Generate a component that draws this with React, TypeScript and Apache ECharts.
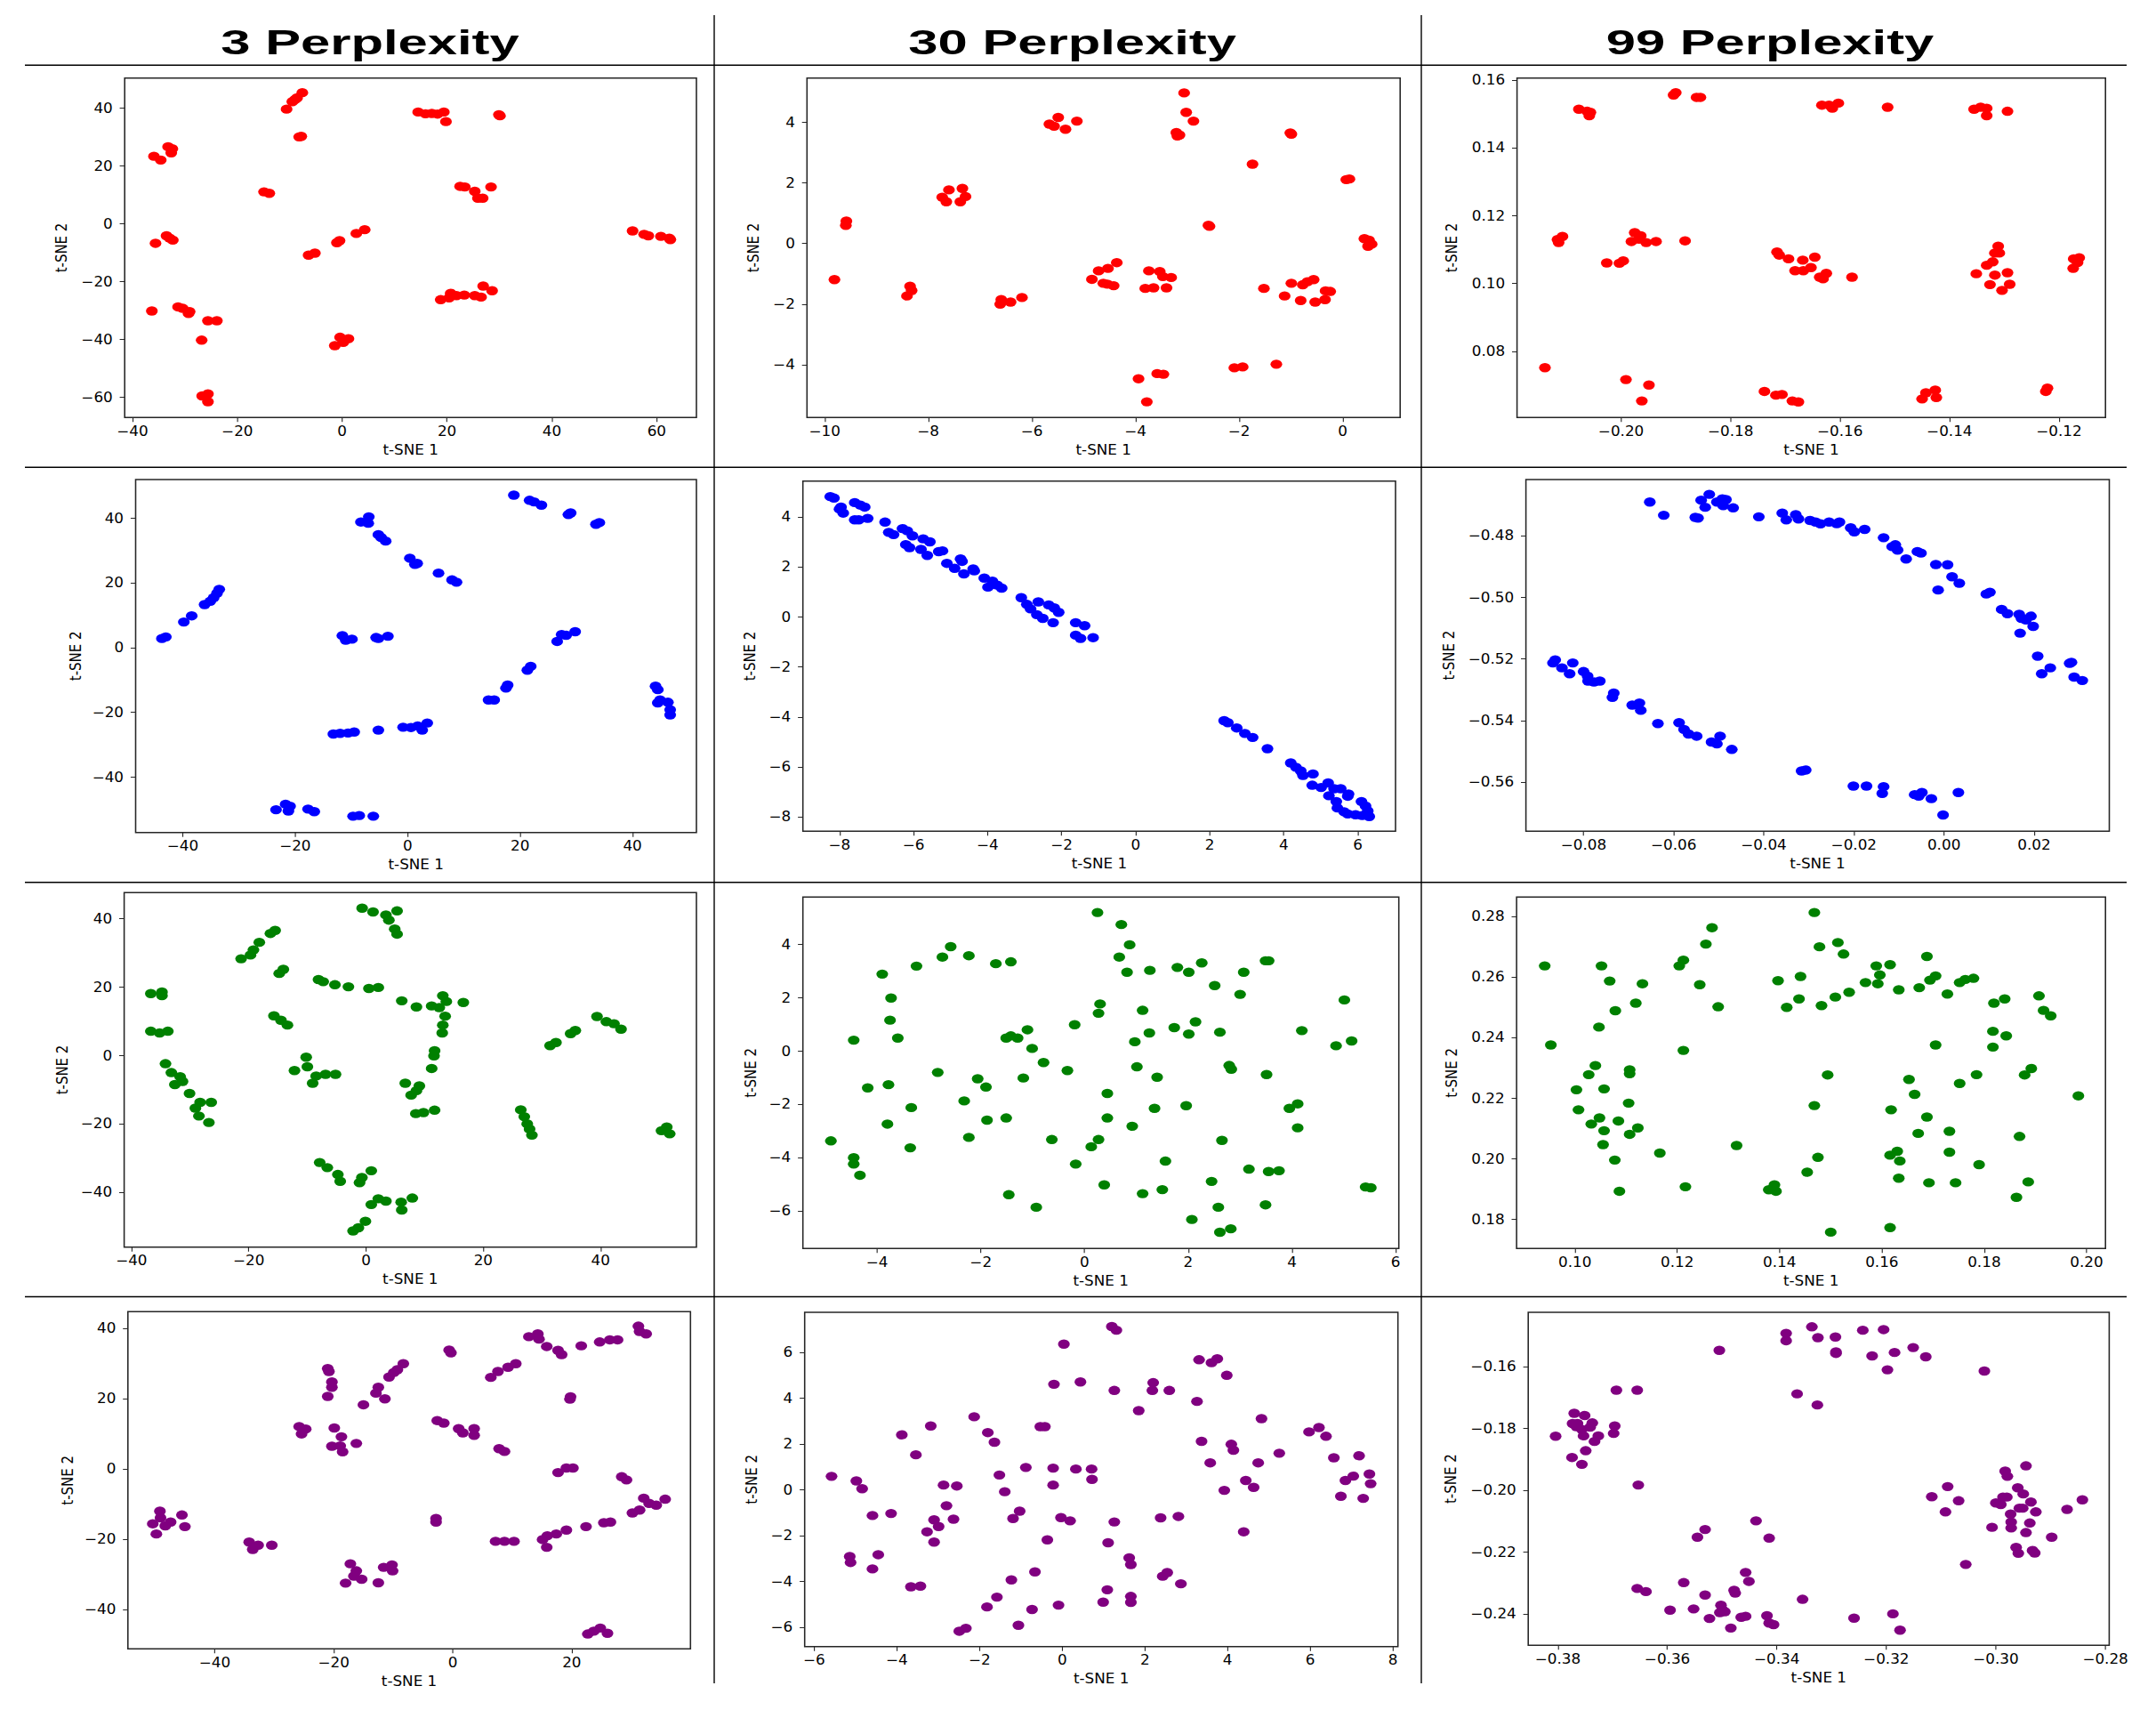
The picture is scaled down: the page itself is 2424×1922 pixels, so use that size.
import React, { useEffect, useRef } from "react";
import * as echarts from "echarts";

// ---------------- text ----------------
const perplexityTitles = ["3 Perplexity", "30 Perplexity", "99 Perplexity"];
const axisNameX = "t-SNE 1";
const axisNameY = "t-SNE 2";
const rowColors = ["#ff0000", "#0000ff", "#008000", "#800080"];

// ---------------- tick values ----------------
const ticksX = [
  [-40, -20, 0, 20, 40, 60],
  [-10, -8, -6, -4, -2, 0],
  [-0.2, -0.18, -0.16, -0.14, -0.12],
  [-40, -20, 0, 20, 40],
  [-8, -6, -4, -2, 0, 2, 4, 6],
  [-0.08, -0.06, -0.04, -0.02, 0, 0.02],
  [-40, -20, 0, 20, 40],
  [-4, -2, 0, 2, 4, 6],
  [0.1, 0.12, 0.14, 0.16, 0.18, 0.2],
  [-40, -20, 0, 20],
  [-6, -4, -2, 0, 2, 4, 6, 8],
  [-0.38, -0.36, -0.34, -0.32, -0.3, -0.28],
];
const ticksY = [
  [-60, -40, -20, 0, 20, 40],
  [-4, -2, 0, 2, 4],
  [0.08, 0.1, 0.12, 0.14, 0.16],
  [-40, -20, 0, 20, 40],
  [-8, -6, -4, -2, 0, 2, 4],
  [-0.56, -0.54, -0.52, -0.5, -0.48],
  [-40, -20, 0, 20, 40],
  [-6, -4, -2, 0, 2, 4],
  [0.18, 0.2, 0.22, 0.24, 0.26, 0.28],
  [-40, -20, 0, 20, 40],
  [-6, -4, -2, 0, 2, 4, 6],
  [-0.24, -0.22, -0.2, -0.18, -0.16],
];
const rangeX = [
  [-41.48, 67.58], [-10.34, 1.11], [-0.219, -0.1115],
  [-48.37, 51.37], [-8.99, 7.02], [-0.0928, 0.0367],
  [-41.25, 56.36], [-5.43, 6.06], [0.0886, 0.2037],
  [-54.58, 39.95], [-6.23, 8.12], [-0.3854, -0.2793],
];
const rangeY = [
  [-66.97, 50.46], [-5.74, 5.46], [0.0605, 0.1606],
  [-57.14, 51.91], [-8.57, 5.43], [-0.576, -0.4617],
  [-56.05, 47.64], [-7.41, 5.78], [0.1704, 0.2864],
  [-51.24, 44.82], [-6.84, 7.75], [-0.2502, -0.1424],
];
const decimals = [0, 0, 2, 0, 0, 2, 0, 0, 2, 0, 0, 2];

// ---------------- data ----------------
const redP3 = [
  [-10.6, 39.7], [-9.5, 42.3], [-9.0, 43.0], [-8.6, 43.6], [-7.6, 45.4],
  [-7.8, 30.3], [-8.2, 30.1],
  [14.5, 38.7], [15.9, 38.1], [17.1, 38.2], [18.2, 38.0], [19.4, 38.7], [19.8, 35.4],
  [29.9, 37.8], [30.1, 37.4],
  [-35.9, 23.4], [-34.6, 22.1], [-33.2, 26.7], [-32.6, 24.6], [-32.4, 26.0],
  [-14.9, 11.1], [-13.9, 10.6],
  [22.5, 13.0], [23.4, 12.8], [25.3, 11.3], [25.9, 8.9], [26.8, 8.9], [28.4, 12.8],
  [-35.6, -6.7], [-33.5, -4.1], [-32.3, -5.6], [-32.9, -4.9],
  [-6.4, -10.8], [-5.2, -10.1],
  [-1.0, -6.5], [-0.5, -5.8],
  [2.7, -3.3], [4.3, -2.0],
  [55.4, -2.4], [57.6, -3.6], [58.4, -4.1], [60.8, -4.3], [62.4, -4.9], [62.6, -5.4],
  [-36.3, -30.1],
  [-31.3, -28.7], [-30.4, -29.2], [-29.3, -31.0], [-29.1, -30.3],
  [-25.6, -33.5], [-23.9, -33.5],
  [-26.8, -40.2],
  [-26.7, -59.5], [-25.6, -58.8], [-25.6, -61.5],
  [-1.4, -42.1], [-0.4, -39.2], [0.2, -41.0], [1.2, -39.7],
  [18.8, -26.2], [20.4, -25.6], [21.8, -24.8], [23.3, -24.6], [25.3, -24.8], [26.5, -25.3],
  [26.9, -21.5], [28.6, -23.1], [20.7, -24.0],
];

const redP30 = [
  [-3.06, 4.97], [-3.02, 4.33], [-2.88, 4.04], [-3.21, 3.66], [-3.15, 3.58], [-3.19, 3.55],
  [-5.66, 3.94], [-5.49, 4.16], [-5.35, 3.77], [-5.13, 4.04], [-5.57, 3.87],
  [-1.01, 3.65], [-0.99, 3.61],
  [-1.74, 2.62],
  [0.07, 2.11], [0.13, 2.13],
  [-7.73, 1.53], [-7.65, 1.38], [-7.6, 1.77], [-7.38, 1.38], [-7.34, 1.82], [-7.28, 1.55],
  [-9.58, 0.74], [-9.59, 0.6],
  [-2.59, 0.6], [-2.57, 0.57],
  [0.42, 0.16], [0.51, 0.11], [0.56, -0.02], [0.49, -0.09],
  [-9.81, -1.19],
  [-8.41, -1.73], [-8.35, -1.41], [-8.32, -1.55],
  [-6.61, -2.0], [-6.59, -1.85], [-6.41, -1.93], [-6.19, -1.78],
  [-4.84, -1.18], [-4.71, -0.9], [-4.53, -0.82], [-4.36, -0.63], [-4.62, -1.31], [-4.42, -1.39], [-4.54, -1.34],
  [-3.74, -0.9], [-3.81, -1.48], [-3.65, -1.46], [-3.53, -0.92], [-3.47, -1.09], [-3.4, -1.46], [-3.31, -1.12],
  [-1.52, -1.48], [-1.12, -1.73],
  [-0.99, -1.31], [-0.77, -1.36], [-0.68, -1.26], [-0.56, -1.19],
  [-0.81, -1.88], [-0.53, -1.93], [-0.34, -1.85], [-0.33, -1.56], [-0.24, -1.58],
  [-3.94, -4.46], [-3.58, -4.29], [-3.46, -4.31], [-3.78, -5.22],
  [-2.09, -4.1], [-1.93, -4.07], [-1.28, -3.98],
];

const redP99 = [
  [-0.2077, 0.1514], [-0.2062, 0.1508], [-0.2058, 0.1495], [-0.2056, 0.1505],
  [-0.1904, 0.1556], [-0.19, 0.1563],
  [-0.1862, 0.1549], [-0.1855, 0.1549],
  [-0.1633, 0.1526], [-0.162, 0.1526], [-0.1614, 0.1517], [-0.1603, 0.1532],
  [-0.1513, 0.152],
  [-0.1355, 0.1514], [-0.1343, 0.152], [-0.1332, 0.1517], [-0.1332, 0.1495], [-0.1294, 0.1508],
  [-0.2116, 0.113], [-0.2114, 0.1121], [-0.2107, 0.1139],
  [-0.2026, 0.1061], [-0.2003, 0.106], [-0.1996, 0.1067],
  [-0.1981, 0.1124], [-0.1975, 0.115], [-0.1967, 0.1131], [-0.1954, 0.1121], [-0.1936, 0.1124], [-0.1964, 0.1141],
  [-0.1883, 0.1126],
  [-0.1715, 0.1093], [-0.1711, 0.1084], [-0.1694, 0.1073], [-0.1682, 0.1038], [-0.1668, 0.1069],
  [-0.1667, 0.1038], [-0.1653, 0.1047], [-0.1646, 0.1078], [-0.1637, 0.1019], [-0.1631, 0.1014], [-0.1625, 0.103],
  [-0.1578, 0.1019],
  [-0.1351, 0.1029], [-0.1332, 0.1054], [-0.1321, 0.1064], [-0.1317, 0.109], [-0.1311, 0.111], [-0.1309, 0.109],
  [-0.1317, 0.1025], [-0.1326, 0.0997], [-0.1304, 0.098], [-0.1294, 0.1032], [-0.129, 0.0998],
  [-0.1173, 0.1073], [-0.1166, 0.1062], [-0.1174, 0.1045], [-0.1163, 0.1076],
  [-0.2139, 0.0752],
  [-0.1991, 0.0717], [-0.1949, 0.0701], [-0.1962, 0.0654],
  [-0.1738, 0.0682], [-0.1717, 0.0671], [-0.1706, 0.0673], [-0.1687, 0.0654], [-0.1676, 0.0651],
  [-0.145, 0.066], [-0.1443, 0.0678], [-0.1426, 0.0686], [-0.1424, 0.0664],
  [-0.1224, 0.0682], [-0.1221, 0.0692],
];

const blueP3 = [
  [18.9, 47.1], [21.7, 45.5], [22.5, 45.0], [23.8, 44.0],
  [28.6, 41.1], [29.0, 41.6], [33.5, 38.1], [34.1, 38.6],
  [-8.3, 38.8], [-6.9, 40.4], [-7.0, 38.4],
  [-5.2, 34.9], [-4.7, 34.0], [-3.9, 32.9],
  [0.4, 27.6], [1.3, 25.7], [1.7, 26.0],
  [5.5, 23.0], [7.9, 20.9], [8.7, 20.2],
  [-43.7, 2.8], [-43.0, 3.3], [-39.8, 7.9], [-38.4, 9.8], [-36.1, 13.3], [-35.1, 14.3], [-34.5, 15.4], [-33.9, 16.8], [-33.5, 18.0],
  [-11.6, 3.7], [-11.0, 2.3], [-9.9, 2.6],
  [-5.6, 3.1], [-5.2, 2.8], [-3.5, 3.5],
  [26.6, 1.9], [27.4, 4.0], [28.2, 3.8], [29.8, 4.9],
  [21.3, -7.0], [21.9, -5.8],
  [17.5, -12.5], [17.8, -11.6],
  [14.4, -16.2], [15.4, -16.2],
  [44.1, -11.9], [44.5, -13.0], [44.5, -17.1], [46.3, -16.9], [46.7, -19.2], [46.7, -20.8], [44.9, -16.2],
  [-13.2, -26.7], [-12.0, -26.5], [-10.6, -26.4], [-9.5, -26.1], [-5.2, -25.5], [-0.8, -24.6], [0.6, -24.7],
  [1.8, -24.2], [3.5, -23.3], [2.6, -25.5],
  [-23.4, -50.1], [-21.7, -48.4], [-21.2, -50.5], [-20.9, -49.0],
  [-17.7, -49.9], [-16.6, -50.7],
  [-9.7, -52.1], [-8.6, -51.9], [-6.1, -52.1],
];

const blueP30 = [
  [-8.25, 4.81], [-8.15, 4.75], [-7.96, 4.39], [-7.9, 4.15], [-8.0, 4.31],
  [-7.59, 4.57], [-7.44, 4.47], [-7.32, 4.39], [-7.59, 3.88], [-7.48, 3.88], [-7.24, 3.94],
  [-6.77, 3.79], [-6.67, 3.38], [-6.54, 3.29],
  [-6.3, 3.53], [-6.17, 3.44], [-6.03, 3.24], [-6.21, 2.89], [-6.11, 2.77],
  [-5.74, 3.12], [-5.56, 3.0], [-5.8, 2.7], [-5.63, 2.46], [-5.32, 2.61], [-5.22, 2.64],
  [-5.1, 2.14], [-4.89, 1.94], [-4.73, 2.32], [-4.69, 2.22], [-4.64, 1.72], [-4.39, 1.92], [-4.36, 1.84],
  [-4.09, 1.55], [-3.99, 1.19], [-3.87, 1.43], [-3.74, 1.27], [-3.62, 1.15],
  [-3.09, 0.77], [-2.94, 0.5], [-2.84, 0.32], [-2.63, 0.6], [-2.67, 0.09], [-2.51, -0.06],
  [-2.35, 0.48], [-2.2, 0.36], [-2.08, 0.18], [-2.23, -0.23],
  [-1.62, -0.23], [-1.38, -0.35], [-1.49, -0.86], [-1.62, -0.73], [-1.15, -0.83],
  [2.39, -4.15], [2.49, -4.23], [2.73, -4.44], [2.95, -4.66], [3.16, -4.82], [3.56, -5.27],
  [4.19, -5.84], [4.33, -6.01], [4.46, -6.16], [4.52, -6.34], [4.79, -6.28], [4.77, -6.73],
  [5.01, -6.82], [5.2, -6.64], [5.36, -6.87], [5.22, -7.15], [5.42, -7.38],
  [5.54, -6.87], [5.75, -7.08], [5.73, -7.17],
  [5.45, -7.64], [5.63, -7.79], [5.73, -7.88], [5.94, -7.91],
  [6.1, -7.38], [6.21, -7.56], [6.27, -7.76], [6.31, -7.98], [6.12, -7.94],
];

const blueP99 = [
  [-0.0653, -0.469], [-0.0622, -0.4733], [-0.0552, -0.474], [-0.0546, -0.4742],
  [-0.0539, -0.4684], [-0.053, -0.4707], [-0.0521, -0.4665], [-0.0504, -0.469], [-0.0492, -0.468],
  [-0.0484, -0.4682], [-0.049, -0.4702], [-0.0468, -0.4709],
  [-0.0411, -0.4738],
  [-0.0359, -0.4726], [-0.035, -0.4748], [-0.0329, -0.4731], [-0.0323, -0.4745],
  [-0.0297, -0.475], [-0.0285, -0.4755], [-0.0274, -0.4761], [-0.0255, -0.4755], [-0.0238, -0.476], [-0.0232, -0.4755],
  [-0.0207, -0.4774], [-0.0199, -0.4787], [-0.0176, -0.4779],
  [-0.0134, -0.4806],
  [-0.0115, -0.4835], [-0.0108, -0.4829], [-0.0103, -0.4846],
  [-0.0084, -0.4875], [-0.0059, -0.4851], [-0.0051, -0.4856],
  [-0.0018, -0.4893], [0.0008, -0.4894], [0.0018, -0.4933], [0.0034, -0.4954], [-0.0013, -0.4976],
  [0.0094, -0.4989], [0.0102, -0.4983],
  [0.0128, -0.5039], [0.0141, -0.5053],
  [0.0167, -0.5055], [0.0172, -0.5068], [0.0182, -0.5073], [0.0193, -0.5061], [0.0198, -0.5094], [0.0169, -0.5116],
  [0.0208, -0.5191], [0.0217, -0.5248], [0.0236, -0.5229],
  [0.0279, -0.5214], [0.0283, -0.5211], [0.0289, -0.5259], [0.0307, -0.527],
  [-0.0868, -0.5213], [-0.0863, -0.5203], [-0.0848, -0.5229], [-0.0824, -0.5213], [-0.0831, -0.5248],
  [-0.08, -0.5241], [-0.0791, -0.5256], [-0.079, -0.5272], [-0.0777, -0.5275], [-0.0764, -0.5272],
  [-0.0733, -0.5311], [-0.0736, -0.5325],
  [-0.0692, -0.535], [-0.0676, -0.5343], [-0.0673, -0.5367],
  [-0.0635, -0.541],
  [-0.0588, -0.5407], [-0.0577, -0.5429], [-0.0567, -0.5444], [-0.0549, -0.5451],
  [-0.0516, -0.547], [-0.0504, -0.5476], [-0.0497, -0.5451],
  [-0.0471, -0.5494],
  [-0.0316, -0.5564], [-0.0307, -0.5561],
  [-0.0201, -0.5613], [-0.0172, -0.5613],
  [-0.0134, -0.5615], [-0.0137, -0.5637],
  [-0.0065, -0.5641], [-0.0056, -0.5646], [-0.0049, -0.5634], [-0.0028, -0.5654],
  [0.0032, -0.5634], [-0.0002, -0.5707],
];

const greenP3 = [
  [-0.66, 43.1], [1.2, 42.0], [3.4, 41.1], [3.9, 39.6], [5.3, 42.3], [4.9, 37.0], [5.3, 35.5],
  [-21.3, 28.3], [-19.7, 29.4], [-19.2, 30.9], [-18.2, 33.1], [-16.3, 35.7], [-15.5, 36.6],
  [-14.8, 24.0], [-14.1, 25.2],
  [-36.7, 18.1], [-34.8, 18.6], [-34.8, 17.5],
  [-8.1, 22.2], [-7.3, 21.6], [-5.3, 20.7], [-3.0, 20.1],
  [0.5, 19.6], [2.1, 19.9],
  [6.1, 16.0], [8.6, 14.2], [11.2, 14.5], [12.5, 14.0],
  [13.1, 17.5], [13.7, 15.8], [16.6, 15.5],
  [13.5, 11.5], [13.1, 8.9], [13.0, 6.6],
  [11.7, 1.4], [11.6, -0.1], [11.2, -3.8],
  [-15.7, 11.6], [-14.5, 10.3], [-13.4, 8.9],
  [-36.7, 7.1], [-35.2, 6.6], [-33.8, 7.1],
  [-34.2, -2.4], [-33.2, -5.0], [-32.6, -8.5], [-31.7, -6.2], [-31.3, -7.6],
  [-30.1, -11.1], [-29.1, -15.4], [-28.3, -13.7], [-28.5, -17.7], [-26.4, -13.7], [-26.8, -19.6],
  [-12.2, -4.4], [-10.2, -0.5], [-10.0, -3.3], [-9.1, -8.1], [-8.5, -6.0], [-6.9, -5.5], [-5.2, -5.5],
  [6.7, -8.1], [7.7, -11.6], [8.6, -10.3], [9.1, -8.9],
  [8.5, -17.0], [9.8, -16.7], [11.7, -16.0],
  [39.4, 11.4], [41.0, 9.9], [42.3, 9.3], [43.5, 7.7],
  [31.4, 2.9], [32.4, 3.8], [34.9, 6.4], [35.7, 7.3],
  [26.4, -15.9], [27.0, -17.9], [27.5, -20.0], [27.9, -21.5], [28.3, -23.3],
  [50.4, -22.0], [51.3, -20.9], [51.8, -22.9],
  [-7.9, -31.3], [-6.6, -32.8], [-4.8, -34.8], [-4.4, -36.8],
  [-1.1, -37.2], [-0.7, -35.7], [0.9, -33.7],
  [0.9, -43.6], [2.1, -41.9], [3.4, -42.6],
  [6.0, -42.9], [6.1, -45.2], [7.9, -41.7],
  [-2.2, -51.3], [-1.3, -50.4], [-0.1, -48.5],
];

const greenP30 = [
  [0.25, 5.2], [0.71, 4.75], [0.87, 3.99], [0.67, 3.53], [0.82, 2.96], [1.26, 3.03], [1.79, 3.14],
  [2.01, 2.96], [2.26, 3.31], [2.51, 2.46], [3.0, 2.13], [3.07, 2.96], [3.49, 3.39], [3.55, 3.39],
  [5.01, 1.92], [4.19, 0.77], [4.85, 0.2], [5.15, 0.38], [5.42, -5.1], [5.52, -5.13],
  [-2.58, 3.92], [-2.74, 3.53], [-2.23, 3.58], [-3.24, 3.19], [-3.9, 2.89], [-1.71, 3.28], [-1.42, 3.35],
  [-3.73, 1.99], [-3.75, 1.16], [-3.6, 0.49], [-4.45, 0.41],
  [-1.51, 0.49], [-1.42, 0.57], [-1.29, 0.49], [-1.1, 0.8], [-1.01, 0.1],
  [-0.19, 0.99], [0.3, 1.77], [0.27, 1.42], [1.12, 1.53], [0.97, 0.35], [1.25, 0.68],
  [1.73, 0.88], [2.01, 0.64], [2.14, 1.1], [2.61, 0.71],
  [-0.79, -0.43], [-0.33, -0.73], [-1.18, -1.01], [1.01, -0.59], [1.4, -0.98],
  [2.79, -0.54], [2.83, -0.68], [3.51, -0.88],
  [-2.83, -0.8], [-2.06, -1.04], [-1.9, -1.35], [-3.78, -1.26], [-4.18, -1.38],
  [-3.34, -2.12], [-2.32, -1.87], [0.44, -1.59], [1.35, -2.15], [1.96, -2.05],
  [3.95, -2.15], [4.11, -1.98], [4.11, -2.88],
  [-3.8, -2.74], [-1.88, -2.59], [-1.51, -2.51], [-2.23, -3.24], [-4.89, -3.37], [-3.36, -3.63],
  [-0.63, -3.32], [0.44, -2.51], [0.92, -2.82], [0.27, -3.32], [0.13, -3.59], [-0.17, -4.24],
  [2.65, -3.35], [1.56, -4.13], [3.17, -4.43], [3.55, -4.52], [3.75, -4.49],
  [-4.45, -4.0], [-4.45, -4.24], [-4.33, -4.66],
  [0.38, -5.02], [1.12, -5.35], [1.5, -5.2], [2.45, -4.89],
  [-1.46, -5.39], [-0.93, -5.86], [2.58, -5.86], [3.49, -5.77], [2.07, -6.32],
  [2.61, -6.8], [2.82, -6.67],
];

const greenP99 = [
  [0.0941, 0.2637], [0.0953, 0.2376], [0.1052, 0.2637], [0.1068, 0.2587], [0.1132, 0.2578],
  [0.1119, 0.2514], [0.1079, 0.2489], [0.1047, 0.2435],
  [0.1204, 0.2637], [0.1212, 0.2656], [0.1256, 0.2709], [0.1268, 0.2763], [0.1244, 0.2575], [0.128, 0.2502],
  [0.1212, 0.2358],
  [0.104, 0.2308], [0.1027, 0.2278], [0.1107, 0.2294], [0.1107, 0.2281],
  [0.1003, 0.2228], [0.1057, 0.2231], [0.1007, 0.2162], [0.1105, 0.2184],
  [0.1048, 0.2135], [0.1032, 0.2115], [0.1057, 0.2093], [0.1085, 0.2125], [0.1123, 0.2102], [0.1107, 0.2081],
  [0.1055, 0.2047], [0.1078, 0.1996], [0.1087, 0.1893],
  [0.1166, 0.2019], [0.1216, 0.1908], [0.1316, 0.2044],
  [0.1379, 0.1898], [0.139, 0.1914], [0.1393, 0.1893],
  [0.1454, 0.1956], [0.1475, 0.2005], [0.1468, 0.2176], [0.1494, 0.2277], [0.15, 0.1758],
  [0.1468, 0.2813], [0.1478, 0.27], [0.1514, 0.2714], [0.1525, 0.2676],
  [0.1397, 0.2588], [0.1441, 0.2602], [0.1438, 0.2528], [0.1414, 0.25], [0.1482, 0.2506],
  [0.1509, 0.2534], [0.1536, 0.255], [0.1568, 0.2582],
  [0.1589, 0.2637], [0.1596, 0.2607], [0.1592, 0.2578], [0.1616, 0.2641], [0.1633, 0.2558],
  [0.1673, 0.2565], [0.1688, 0.2668], [0.1694, 0.259], [0.1705, 0.2604], [0.1728, 0.2544],
  [0.1752, 0.2582], [0.1763, 0.2592], [0.1779, 0.2596],
  [0.1819, 0.2514], [0.184, 0.2528], [0.1907, 0.2538], [0.1916, 0.249], [0.193, 0.2472],
  [0.1817, 0.2421], [0.1843, 0.2406], [0.1817, 0.2369], [0.1705, 0.2376],
  [0.1785, 0.2278], [0.1752, 0.2249], [0.1653, 0.2262], [0.1664, 0.2213], [0.1618, 0.2162],
  [0.1688, 0.2138], [0.1671, 0.2084], [0.1732, 0.2091],
  [0.1892, 0.2298], [0.1879, 0.2277], [0.1984, 0.2208], [0.1869, 0.2074],
  [0.1732, 0.2022], [0.1616, 0.2012], [0.163, 0.2025], [0.1635, 0.1993], [0.1633, 0.1936],
  [0.1692, 0.1921], [0.1744, 0.1921], [0.179, 0.1981], [0.1886, 0.1924], [0.1863, 0.1873],
  [0.1616, 0.1773],
];

const purpleP3 = [
  [31.2, 40.7], [31.4, 39.2], [32.5, 38.5],
  [24.7, 36.2], [26.4, 36.8], [27.7, 36.8], [21.6, 35.1],
  [12.8, 37.7], [14.3, 38.5], [14.5, 37.0], [15.8, 34.9], [17.7, 33.8], [18.3, 32.6],
  [-0.6, 33.9], [-0.3, 33.1],
  [6.4, 26.1], [7.6, 27.8], [9.3, 29.0], [10.6, 30.0],
  [19.8, 20.6], [19.7, 19.9],
  [-21.0, 28.6], [-20.8, 27.8], [-20.3, 24.8], [-20.3, 23.3], [-21.0, 20.7],
  [-10.7, 26.2], [-9.9, 27.5], [-9.3, 28.3], [-8.3, 30.0],
  [-12.5, 23.3], [-12.9, 21.6], [-11.4, 20.0], [-15.0, 18.3],
  [-25.8, 12.1], [-25.4, 10.0], [-24.7, 11.4], [-19.9, 11.7],
  [-20.3, 6.5], [-18.9, 6.6], [-18.7, 9.2], [-18.5, 4.9], [-16.2, 7.3],
  [-2.6, 13.8], [-1.5, 13.1], [1.0, 11.5], [1.7, 10.3], [3.6, 11.5], [3.6, 9.6],
  [7.8, 5.8], [8.7, 5.0],
  [17.7, -1.0], [19.1, 0.3], [20.2, 0.3],
  [28.4, -2.2], [29.2, -3.1],
  [32.1, -8.3], [33.0, -9.8], [34.2, -10.3], [35.7, -8.6], [30.2, -12.5], [31.4, -11.7],
  [22.4, -16.4], [25.4, -15.3], [26.5, -15.1],
  [19.1, -17.4], [17.4, -18.5], [15.1, -20.1], [15.9, -19.0], [15.8, -22.3],
  [7.2, -20.6], [8.7, -20.6], [10.3, -20.6],
  [-2.8, -14.1], [-2.8, -15.1],
  [-50.4, -15.6], [-49.8, -18.5], [-49.2, -12.0], [-49.1, -13.9], [-48.3, -16.2], [-47.4, -15.1], [-45.5, -13.1], [-45.0, -16.4],
  [-34.2, -20.8], [-33.6, -22.9], [-32.7, -21.7], [-30.4, -21.7],
  [-17.2, -27.0], [-16.2, -29.0], [-16.6, -30.5], [-15.3, -31.4], [-18.0, -32.5], [-12.5, -32.4],
  [-11.6, -28.0], [-10.2, -27.3], [-10.1, -29.0],
  [22.7, -47.0], [23.7, -46.2], [24.8, -45.3], [26.0, -46.8],
];

const purpleP30 = [
  [1.2, 7.13], [1.31, 6.97], [0.04, 6.36], [-0.2, 4.61], [0.44, 4.71], [1.26, 4.34],
  [2.2, 4.68], [2.18, 4.34], [2.59, 4.34], [3.31, 5.68], [3.61, 5.55], [3.75, 5.72], [3.98, 5.0],
  [3.26, 3.86], [1.85, 3.46], [4.82, 3.11], [3.37, 2.12], [4.09, 1.99], [4.14, 1.73], [5.25, 1.6],
  [3.58, 1.18], [4.74, 1.18], [5.97, 2.53], [6.21, 2.72], [6.38, 2.34], [6.57, 1.4], [7.18, 1.49],
  [7.43, 0.69], [7.46, 0.27], [7.04, 0.6], [6.85, 0.41], [6.74, -0.28], [7.28, -0.37],
  [4.44, 0.41], [4.63, 0.11], [3.92, -0.02], [4.39, -1.83], [2.38, -1.22], [2.81, -1.16],
  [1.26, -1.4], [1.11, -2.31], [0.72, 0.46], [0.71, 0.91], [0.33, 0.91], [-0.22, 0.95], [-0.22, 0.21],
  [-0.88, 0.98], [-0.03, -1.21], [0.19, -1.35], [-0.36, -2.18], [-0.53, 2.76], [-0.42, 2.76],
  [-2.13, 3.19], [-1.8, 2.5], [-1.64, 2.08], [-1.52, 0.65], [-1.39, -0.08], [-1.03, -0.93], [-1.19, -1.25],
  [-3.18, 2.79], [-3.88, 2.4], [-3.54, 1.53], [-2.87, 0.21], [-2.55, 0.17], [-2.8, -0.69], [-2.63, -1.28],
  [-3.1, -1.31], [-2.99, -1.6], [-3.27, -1.83], [-3.1, -2.28],
  [-5.58, 0.59], [-4.98, 0.39], [-4.84, 0.05], [-4.59, -1.12], [-4.14, -1.03],
  [-5.14, -2.91], [-5.12, -3.17], [-4.45, -2.83], [-4.59, -3.45], [-3.66, -4.23], [-3.43, -4.2],
  [-1.23, -3.93], [-0.66, -3.58], [-1.58, -4.68], [-1.82, -5.11], [-0.73, -5.22], [-0.09, -5.03],
  [-1.06, -5.91], [-2.49, -6.17], [-2.33, -6.04],
  [1.09, -4.36], [0.99, -4.9], [1.62, -2.97], [1.66, -3.26], [1.66, -4.65], [1.66, -4.91],
  [2.43, -3.77], [2.54, -3.61], [2.87, -4.1],
];

const purpleP99 = [
  [-0.3804, -0.1825], [-0.3774, -0.1894], [-0.3756, -0.1916],
  [-0.377, -0.1751], [-0.3751, -0.1758], [-0.3764, -0.1784], [-0.3773, -0.1784], [-0.3766, -0.1794],
  [-0.3756, -0.1803], [-0.3753, -0.1824], [-0.3741, -0.1796], [-0.3737, -0.1782], [-0.3749, -0.1872],
  [-0.3733, -0.1842], [-0.3726, -0.1824],
  [-0.3696, -0.1792], [-0.3698, -0.1816],
  [-0.3693, -0.1676], [-0.3655, -0.1676], [-0.3653, -0.1983],
  [-0.3505, -0.1547], [-0.3383, -0.1492], [-0.3383, -0.1516], [-0.3336, -0.1471], [-0.3325, -0.1506],
  [-0.3293, -0.1504], [-0.3292, -0.1552], [-0.3292, -0.1557], [-0.3243, -0.1482], [-0.3205, -0.148],
  [-0.3226, -0.1565], [-0.3198, -0.161], [-0.3185, -0.1554], [-0.3151, -0.1538], [-0.3128, -0.1568],
  [-0.3021, -0.1614], [-0.3363, -0.1688], [-0.3326, -0.1724],
  [-0.3117, -0.2021], [-0.3088, -0.1988], [-0.3068, -0.2034], [-0.3092, -0.207], [-0.3055, -0.224],
  [-0.3007, -0.212], [-0.3, -0.2041], [-0.2991, -0.2046], [-0.2987, -0.2022], [-0.298, -0.2022],
  [-0.2983, -0.1938], [-0.2979, -0.1955], [-0.2945, -0.1921], [-0.296, -0.1992], [-0.295, -0.2012],
  [-0.2973, -0.2077], [-0.2972, -0.2103], [-0.2972, -0.2122], [-0.2957, -0.2058], [-0.2951, -0.2058],
  [-0.2936, -0.2038], [-0.2927, -0.207], [-0.2938, -0.2106], [-0.2945, -0.2137],
  [-0.2963, -0.2185], [-0.2959, -0.2204], [-0.2933, -0.2195], [-0.2929, -0.2203],
  [-0.2898, -0.2152], [-0.287, -0.2062], [-0.2842, -0.2031],
  [-0.3545, -0.2152], [-0.3531, -0.2127], [-0.3438, -0.2099], [-0.3414, -0.2155],
  [-0.3655, -0.2318], [-0.3639, -0.2328], [-0.357, -0.2299], [-0.3595, -0.2388], [-0.3552, -0.2384],
  [-0.3531, -0.2339], [-0.3523, -0.2415], [-0.3502, -0.2372], [-0.3499, -0.2388], [-0.3495, -0.2393],
  [-0.3504, -0.2396], [-0.3478, -0.2324], [-0.3476, -0.2333], [-0.3484, -0.2446],
  [-0.3465, -0.2411], [-0.3457, -0.2408], [-0.3457, -0.2266], [-0.3451, -0.2295],
  [-0.3418, -0.2406], [-0.3414, -0.243], [-0.3406, -0.2435],
  [-0.3353, -0.2353], [-0.3259, -0.2414], [-0.3188, -0.24], [-0.3175, -0.2453],
];

const panelData = [
  redP3, redP30, redP99,
  blueP3, blueP30, blueP99,
  greenP3, greenP30, greenP99,
  purpleP3, purpleP30, purpleP99,
];

// ---------------- layout (page pixels) ----------------
const PAGE_W = 2424;
const PAGE_H = 1922;
const K = 1.12; // horizontal stretch of the whole figure
// [left, right, top, bottom] of each plot frame
const boxes = [
  [140.2, 783.0, 87.7, 469.3], [907.3, 1574.2, 87.7, 469.3], [1705.6, 2367.2, 87.7, 469.3],
  [152.5, 783.0, 539.0, 935.7], [902.7, 1569.0, 540.7, 934.3], [1715.6, 2371.5, 539.0, 934.3],
  [139.6, 783.0, 1003.3, 1401.7], [902.7, 1572.7, 1008.3, 1403.3], [1705.1, 2367.2, 1008.3, 1403.3],
  [143.8, 776.3, 1474.3, 1853.3], [904.7, 1571.7, 1475.0, 1850.7], [1718.2, 2371.4, 1475.0, 1849.3],
];
const yNameOffset = [71, 60, 73, 67.8, 59.1, 86.7, 69.3, 59, 72.5, 67.8, 59.5, 86.7];
const titleCenters = [416, 1205.6, 1990];

const FONT = "DejaVu Sans";
const ELLIPSE = "path://M0 50A50 50 0 1 0 100 50A50 50 0 1 0 0 50Z";

function fmt(v: number, d: number) {
  const s = d ? v.toFixed(d) : String(Math.round(v));
  return s.replace("-", "\u2212");
}

function buildOption() {
  const grid: any[] = [];
  const xAxis: any[] = [];
  const yAxis: any[] = [];
  const series: any[] = [];
  panelData.forEach((data, i) => {
    const [l, r, t, b] = boxes[i];
    grid.push({
      left: l / K,
      top: t,
      width: (r - l) / K,
      height: b - t,
      show: true,
      borderColor: "#262626",
      borderWidth: 1.4,
      backgroundColor: "transparent",
      containLabel: false,
      outerBoundsMode: "none",
    });
    const d = decimals[i];
    xAxis.push({
      type: "value",
      gridIndex: i,
      min: rangeX[i][0],
      max: rangeX[i][1],
      name: axisNameX,
      nameLocation: "middle",
      nameGap: 29,
      nameTextStyle: { fontFamily: FONT, fontSize: 15, color: "#000" },
      axisLine: { show: false, onZero: false },
      axisTick: { show: true, length: 5, customValues: ticksX[i], lineStyle: { color: "#262626", width: 1 } },
      axisLabel: {
        customValues: ticksX[i],
        margin: 8,
        fontFamily: FONT,
        fontSize: 15,
        color: "#000",
        formatter: (v: number) => fmt(v, d),
      },
      splitLine: { show: false },
    });
    yAxis.push({
      type: "value",
      gridIndex: i,
      min: rangeY[i][0],
      max: rangeY[i][1],
      name: axisNameY,
      nameLocation: "middle",
      nameGap: yNameOffset[i] / K - 7.5,
      nameTextStyle: { fontFamily: FONT, fontSize: 15, color: "#000" },
      axisLine: { show: false, onZero: false },
      axisTick: { show: true, length: 5, customValues: ticksY[i], lineStyle: { color: "#262626", width: 1 } },
      axisLabel: {
        customValues: ticksY[i],
        margin: 12,
        fontFamily: FONT,
        fontSize: 15,
        color: "#000",
        formatter: (v: number) => fmt(v, d),
      },
      splitLine: { show: false },
    });
    series.push({
      type: "scatter",
      xAxisIndex: i,
      yAxisIndex: i,
      data,
      symbol: ELLIPSE,
      symbolSize: [13.2 / K, 10.4],
      itemStyle: { color: rowColors[Math.floor(i / 3)], opacity: 1 },
      silent: true,
      clip: false,
    });
  });

  const graphic: any[] = [];
  perplexityTitles.forEach((t, c) => {
    graphic.push({
      type: "text",
      x: titleCenters[c] / K,
      y: 47.5,
      scaleX: 1.35,
      silent: true,
      style: {
        text: t,
        fontFamily: "Liberation Sans",
        fontWeight: "bold",
        fontSize: 39.5,
        fill: "#000",
        align: "center",
        verticalAlign: "middle",
        textAlign: "center",
        textVerticalAlign: "middle",
      },
    });
  });
  const hLines = [73.3, 525.3, 991.7, 1457.5];
  hLines.forEach((y) => {
    graphic.push({
      type: "line",
      silent: true,
      shape: { x1: 28 / K, y1: y, x2: 2391 / K, y2: y },
      style: { stroke: "#000", lineWidth: 1.5 },
    });
  });
  const vLines = [803, 1598];
  vLines.forEach((x) => {
    graphic.push({
      type: "line",
      silent: true,
      shape: { x1: x / K, y1: 17, x2: x / K, y2: 1892 },
      style: { stroke: "#000", lineWidth: 1.4 / K },
    });
  });

  return {
    animation: false,
    backgroundColor: "#fff",
    grid,
    xAxis,
    yAxis,
    series,
    graphic,
  };
}

export default function App() {
  const ref = useRef<HTMLDivElement>(null);
  useEffect(() => {
    if (!ref.current) return;
    const chart = echarts.init(ref.current, undefined, { renderer: "svg" });
    chart.setOption(buildOption() as any);
    return () => chart.dispose();
  }, []);
  return (
    <div
      style={{
        position: "absolute",
        left: 0,
        top: 0,
        width: PAGE_W,
        height: PAGE_H,
        overflow: "hidden",
        background: "#fff",
      }}
    >
      <div
        ref={ref}
        style={{
          width: PAGE_W / K,
          height: PAGE_H,
          transform: `scaleX(${K})`,
          transformOrigin: "0 0",
        }}
      />
    </div>
  );
}
